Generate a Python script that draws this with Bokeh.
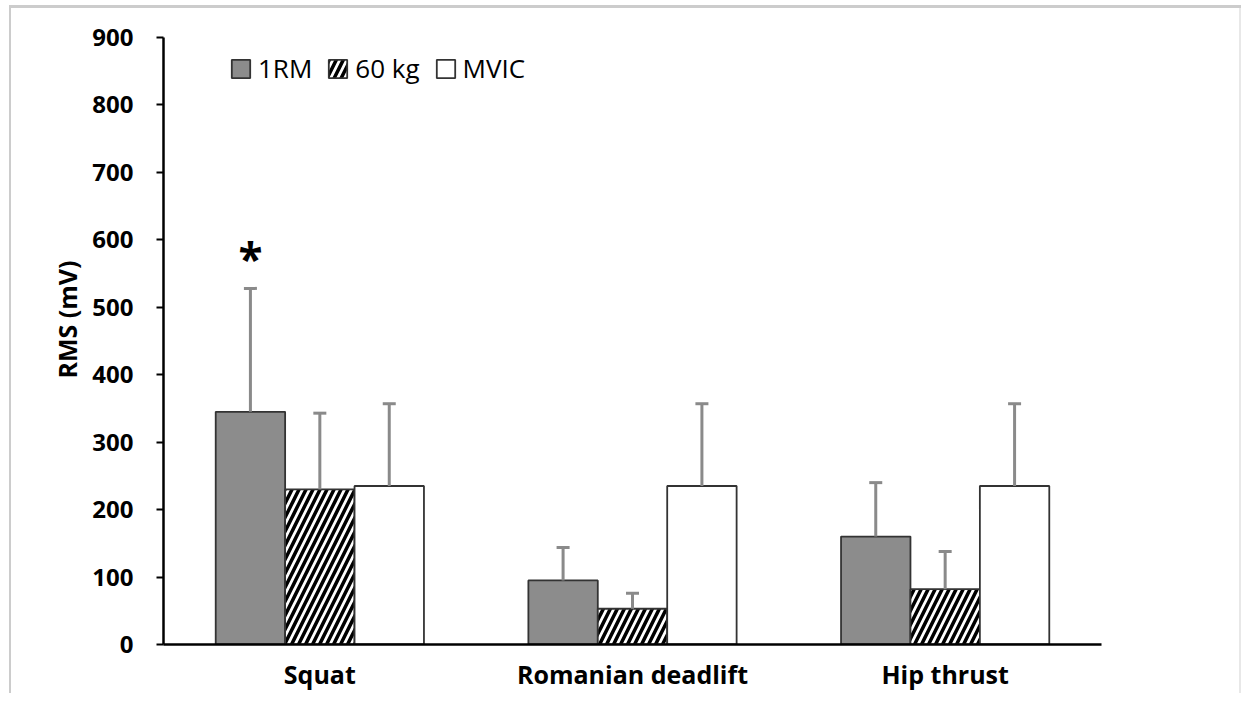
from bokeh.plotting import figure
from bokeh.models import ColumnDataSource, FactorRange, FixedTicker, Legend, Title
from bokeh.transform import dodge
from bokeh.core.properties import value
from bokeh.embed import file_html
from bokeh.resources import INLINE

# ---- data ----
categories = ["Squat", "Romanian deadlift", "Hip thrust"]
series_names = ["1RM", "60 kg", "MVIC"]
rm1_mean = [345, 95, 160]
rm1_sd = [183, 49, 80]
kg60_mean = [230, 53, 82]
kg60_sd = [113, 23, 56]
mvic_mean = [235, 235, 235]
mvic_sd = [122, 122, 122]
y_ticks = [0, 100, 200, 300, 400, 500, 600, 700, 800, 900]
sig_marks = ["*", "", ""]  # significance marker over 1RM bars

FONT = "Open Sans"

p = figure(
    x_range=FactorRange(*categories, range_padding=0),
    y_range=(0, 900),
    width=1241, height=693,
    output_backend="svg", toolbar_location=None,
    min_border_left=163, min_border_right=140,
    min_border_top=37, min_border_bottom=49,
    styles={"box-shadow": "inset 0 5px 0 0 #ffffff, inset 9px 0 0 0 #ffffff, "
                          "inset 0 8px 0 0 #cccccc, inset 11px 0 0 0 #cccccc, "
                          "inset -2px 0 0 0 #e8e8e8"},
)
p.outline_line_color = None
p.xgrid.grid_line_color = None
p.ygrid.grid_line_color = None
p.background_fill_color = "white"
p.border_fill_alpha = 0

bar_w = 0.222
offsets = [-bar_w, 0.0, bar_w]
means = [rm1_mean, kg60_mean, mvic_mean]
sds = [rm1_sd, kg60_sd, mvic_sd]
styles = [
    dict(fill_color="#8c8c8c"),
    dict(fill_color="white", hatch_pattern="/", hatch_color="black", hatch_scale=14, hatch_weight=3.5),
    dict(fill_color="white"),
]

bar_renderers = []
for name, m, s, off, st in zip(series_names, means, sds, offsets, styles):
    src = ColumnDataSource(dict(cat=categories, top=m,
                                hi=[a + b for a, b in zip(m, s)]))
    r = p.vbar(x=dodge("cat", off, range=p.x_range), top="top", width=bar_w,
               source=src, line_color="#333333", line_width=1.8, **st)
    bar_renderers.append((name, r))
    p.segment(x0=dodge("cat", off, range=p.x_range), y0="top",
              x1=dodge("cat", off, range=p.x_range), y1="hi",
              source=src, line_color="#8a8a8a", line_width=3)
    p.scatter(x=dodge("cat", off, range=p.x_range), y="hi", marker="dash",
              size=13, line_color="#8a8a8a", line_width=3, source=src)

# significance asterisk above 1RM error bar
sig_src = ColumnDataSource(dict(cat=categories,
                                y=[a + b + 45 for a, b in zip(rm1_mean, rm1_sd)],
                                t=sig_marks))
p.text(x=dodge("cat", offsets[0], range=p.x_range), y="y", text="t", source=sig_src,
       text_align="center", text_baseline="middle", text_font=value(FONT),
       text_font_size="44px", text_font_style="bold", text_color="black")

legend = Legend(items=[(n, [r]) for n, r in bar_renderers],
                orientation="horizontal", location=(66, 558))
legend.border_line_color = None
legend.background_fill_alpha = 0
legend.padding = 0
legend.margin = 0
legend.spacing = 14
legend.label_standoff = 6
legend.glyph_width = 23
legend.glyph_height = 23
legend.label_text_font = FONT
legend.label_text_font_size = "26px"
legend.label_text_color = "black"
p.add_layout(legend, "center")

# axes
p.yaxis.ticker = FixedTicker(ticks=y_ticks)
p.yaxis.major_label_text_font = FONT
p.yaxis.major_label_text_font_size = "24px"
p.yaxis.major_label_text_font_style = "bold"
p.yaxis.major_label_text_color = "black"
p.yaxis.major_label_standoff = 23
p.yaxis.axis_line_color = "black"
p.yaxis.axis_line_width = 2.5
p.yaxis.major_tick_line_color = "black"
p.yaxis.major_tick_line_width = 2
p.yaxis.major_tick_out = 7
p.yaxis.major_tick_in = 0
p.yaxis.minor_tick_line_color = None

ylab = Title(text="RMS (mV)", align="left", offset=266, standoff=12,
             text_font=FONT, text_font_size="25px", text_font_style="bold",
             text_color="black")
p.add_layout(ylab, "left")

p.xaxis.major_label_text_font = FONT
p.xaxis.major_label_text_font_size = "25px"
p.xaxis.major_label_text_font_style = "bold"
p.xaxis.major_label_text_color = "black"
p.xaxis.major_label_standoff = 6
p.xaxis.axis_line_color = "black"
p.xaxis.axis_line_width = 2.5
p.xaxis.major_tick_line_color = None
p.xaxis.minor_tick_line_color = None

open("out.html", "w").write(file_html(p, INLINE))
